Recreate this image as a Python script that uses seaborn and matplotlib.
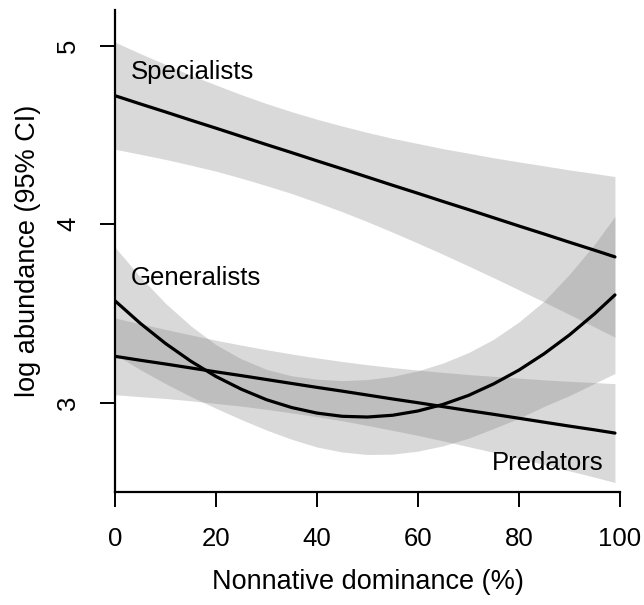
import numpy as np
import pandas as pd
import matplotlib
matplotlib.use("Agg")
import matplotlib.pyplot as plt
import seaborn as sns

# ---- data ----
dominance = [0, 5, 10, 15, 20, 25, 30, 35, 40, 45, 50, 55, 60, 65, 70, 75, 80, 85, 90, 95, 99]

spec_fit = [4.720, 4.674, 4.629, 4.583, 4.538, 4.492, 4.446, 4.401, 4.355, 4.310, 4.264,
            4.218, 4.173, 4.127, 4.082, 4.036, 3.990, 3.945, 3.899, 3.854, 3.817]
spec_hi = [5.020, 4.956, 4.895, 4.835, 4.780, 4.726, 4.676, 4.630, 4.588, 4.550, 4.514,
           4.481, 4.452, 4.423, 4.398, 4.372, 4.349, 4.327, 4.304, 4.284, 4.267]
spec_lo = [4.420, 4.392, 4.363, 4.331, 4.297, 4.258, 4.216, 4.172, 4.122, 4.070, 4.014,
           3.955, 3.894, 3.831, 3.766, 3.700, 3.632, 3.564, 3.494, 3.424, 3.367]

gen_fit = [3.571, 3.445, 3.332, 3.233, 3.147, 3.076, 3.017, 2.973, 2.942, 2.924, 2.920,
           2.930, 2.954, 2.991, 3.041, 3.106, 3.183, 3.275, 3.380, 3.499, 3.604]
gen_hi = [3.871, 3.705, 3.557, 3.431, 3.325, 3.246, 3.187, 3.151, 3.132, 3.124, 3.130,
          3.148, 3.179, 3.223, 3.281, 3.356, 3.453, 3.570, 3.720, 3.889, 4.044]
gen_lo = [3.271, 3.185, 3.107, 3.035, 2.969, 2.906, 2.847, 2.795, 2.752, 2.724, 2.710,
          2.712, 2.729, 2.759, 2.801, 2.856, 2.913, 2.980, 3.040, 3.109, 3.164]

pred_fit = [3.260, 3.238, 3.217, 3.195, 3.173, 3.152, 3.130, 3.108, 3.086, 3.065, 3.043,
            3.021, 3.000, 2.978, 2.956, 2.935, 2.913, 2.891, 2.869, 2.848, 2.830]
pred_hi = [3.475, 3.442, 3.411, 3.380, 3.350, 3.323, 3.297, 3.273, 3.251, 3.231, 3.213,
           3.197, 3.183, 3.170, 3.158, 3.148, 3.138, 3.128, 3.120, 3.113, 3.107]
pred_lo = [3.045, 3.034, 3.024, 3.011, 2.996, 2.981, 2.963, 2.943, 2.922, 2.899, 2.873,
           2.845, 2.817, 2.786, 2.754, 2.722, 2.688, 2.654, 2.618, 2.583, 2.553]

groups = ["Specialists", "Generalists", "Predators"]
x_ticks = [0, 20, 40, 60, 80, 100]
y_ticks = [3, 4, 5]

# ---- build table ----
fits = {"Specialists": (spec_fit, spec_lo, spec_hi),
        "Generalists": (gen_fit, gen_lo, gen_hi),
        "Predators": (pred_fit, pred_lo, pred_hi)}
rows = []
for g in groups:
    f, lo, hi = fits[g]
    for xv, fv, lv, hv in zip(dominance, f, lo, hi):
        rows.append({"group": g, "x": xv, "fit": fv, "lo": lv, "hi": hv})
df = pd.DataFrame(rows)

sns.set_style("ticks")
plt.rcParams["font.family"] = ["Liberation Sans", "DejaVu Sans"]
plt.rcParams["text.color"] = "black"
plt.rcParams["axes.labelcolor"] = "black"

FS = 18.5
FS_LAB = 19.5

fig = plt.figure(figsize=(6.44, 6.05), dpi=100)
ax = fig.add_axes([115 / 644, 1 - 492 / 605, (620 - 115) / 644, (492 - 10) / 605])

for g in groups:
    sub = df[df["group"] == g]
    ax.fill_between(sub["x"], sub["lo"], sub["hi"], color="#7f7f7f", alpha=0.29,
                    linewidth=0, zorder=1)

sns.lineplot(data=df, x="x", y="fit", hue="group",
             palette={g: "black" for g in groups}, estimator=None,
             linewidth=2.3, legend=False, ax=ax, zorder=3)

ax.set_xlim(0, 100)
ax.set_ylim(2.5, 5.2)
ax.set_xticks(x_ticks)
ax.set_yticks(y_ticks)
ax.set_xticklabels([str(t) for t in x_ticks])
ax.set_yticklabels([str(t) for t in y_ticks], rotation=90, va="center")

for s in ["top", "right"]:
    ax.spines[s].set_visible(False)
for s in ["left", "bottom"]:
    ax.spines[s].set_linewidth(1.6)
    ax.spines[s].set_color("black")

ax.tick_params(axis="both", which="major", length=11, width=1.4, color="black",
               labelsize=FS, labelcolor="black", direction="out")
ax.tick_params(axis="x", pad=14)
ax.tick_params(axis="y", pad=14)

ax.set_xlabel("Nonnative dominance (%)", fontsize=FS_LAB, labelpad=13, color="black")
ax.set_ylabel("log abundance (95% CI)", fontsize=FS_LAB, labelpad=11, color="black")

ax.text(3.2, 4.85, "Specialists", fontsize=FS, ha="left", va="center", color="black")
ax.text(3.2, 3.70, "Generalists", fontsize=FS, ha="left", va="center", color="black")
ax.text(96.8, 2.66, "Predators", fontsize=FS, ha="right", va="center", color="black")

ax.set_facecolor("white")
fig.patch.set_facecolor("white")
fig.savefig("out.png", dpi=100, facecolor="white")
